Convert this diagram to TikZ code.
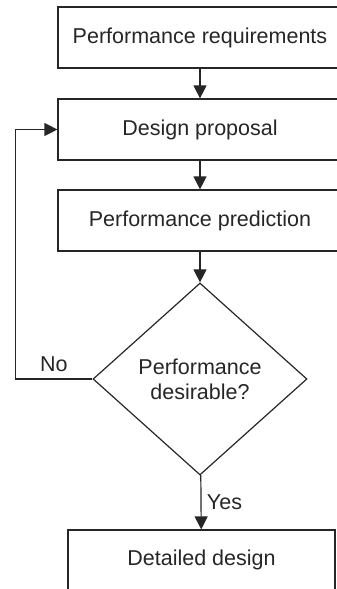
\documentclass[tikz,border=0pt]{standalone}
\usepackage{fontspec}
\setmainfont{Liberation Sans}
\usetikzlibrary{shapes.geometric, arrows.meta}

\begin{document}
\begin{tikzpicture}[
        x=1pt, y=-1pt,
        box/.style={draw=black!85, line width=1.2pt, rectangle, minimum width=284pt, minimum height=61pt, inner sep=0pt, align=center, text=black!85, font=\fontsize{21.5}{25}\selectfont},
        decision/.style={draw=black!85, line width=1.2pt, diamond, minimum width=214pt, minimum height=192pt, inner sep=0pt, align=center, text=black!85, font=\fontsize{21.5}{25}\selectfont},
        arrow/.style={draw=black!85, line width=1.2pt, -{Triangle[length=13pt, width=13pt]}},
        lbl/.style={text=black!85, font=\fontsize{21.5}{25}\selectfont}
    ]

    % Page frame: the boxes run off the right and bottom edges
    \useasboundingbox (0,0) rectangle (337,589);
    \clip (0,0) rectangle (337,589);

    \node[box] (req) at (200, 37.5) {Performance requirements};
    \node[box] (design) at (200, 129.5) {Design proposal};
    \node[box] (pred) at (200, 220.5) {Performance prediction};
    \node[decision] (decide) at (200, 379) {Performance\\desirable?};
    \node[box, minimum width=267pt, minimum height=60pt] (detail) at (201.5, 560) {Detailed design};

    % Main flow down
    \draw[arrow] (req) -- (design);
    \draw[arrow] (design) -- (pred);
    \draw[arrow] (pred) -- (decide);
    \draw[arrow] (decide) -- node[lbl, right, xshift=2pt] {Yes} (detail);

    % Loop back
    \draw[arrow] (decide.west) -- node[lbl, above, yshift=3pt] {No} ++(-77,0) |- (design.west);

\end{tikzpicture}
\end{document}
